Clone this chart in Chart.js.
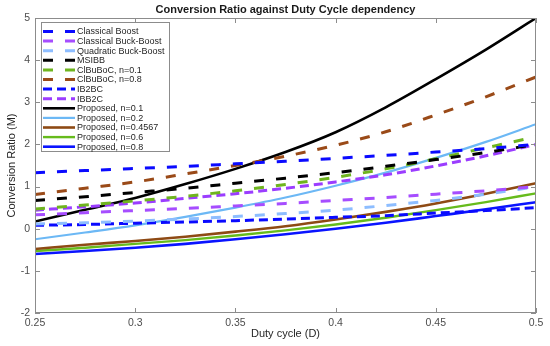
<!DOCTYPE html>
<html>
<head>
<meta charset="utf-8">
<script src="https://cdn.jsdelivr.net/npm/chart.js@4.4.0/dist/chart.umd.min.js"></script>
<style>
html, body { margin: 0; padding: 0; background: #fff; }
</style>
</head>
<body>
<canvas id="myChart" width="550" height="346"></canvas>
<script>
// duty cycle samples (x axis)
var duty = [0.25, 0.275, 0.3, 0.325, 0.35, 0.375, 0.4, 0.425, 0.45, 0.475, 0.5];

// conversion ratio, one array per curve
var classicalBoost   = [1.33, 1.38, 1.43, 1.48, 1.54, 1.60, 1.67, 1.74, 1.82, 1.90, 2.00];
var classicalBB      = [0.33, 0.38, 0.43, 0.48, 0.54, 0.60, 0.67, 0.74, 0.82, 0.90, 1.00];
var quadraticBB      = [0.11, 0.14, 0.18, 0.23, 0.29, 0.36, 0.44, 0.55, 0.67, 0.82, 1.00];
var msibb            = [0.67, 0.76, 0.86, 0.96, 1.08, 1.20, 1.33, 1.48, 1.64, 1.81, 2.00];
var cibubocN01       = [0.47, 0.56, 0.66, 0.77, 0.90, 1.05, 1.22, 1.42, 1.66, 1.92, 2.18];
var cibubocN08       = [0.81, 0.96, 1.11, 1.30, 1.50, 1.72, 1.98, 2.30, 2.70, 3.13, 3.60];
var ib2bc            = [0.08, 0.10, 0.13, 0.16, 0.19, 0.23, 0.27, 0.31, 0.37, 0.43, 0.50];
var ibb2c            = [0.44, 0.52, 0.61, 0.72, 0.83, 0.96, 1.11, 1.28, 1.49, 1.73, 2.00];
var propN01          = [0.17, 0.45, 0.73, 1.06, 1.42, 1.82, 2.29, 2.88, 3.55, 4.25, 5.00];
var propN02          = [-0.25, -0.09, 0.08, 0.28, 0.50, 0.74, 1.02, 1.33, 1.68, 2.06, 2.48];
var propN04567       = [-0.48, -0.38, -0.29, -0.19, -0.07, 0.06, 0.22, 0.40, 0.60, 0.83, 1.08];
var propN06          = [-0.53, -0.45, -0.36, -0.27, -0.16, -0.04, 0.10, 0.26, 0.44, 0.63, 0.84];
var propN08          = [-0.60, -0.53, -0.45, -0.36, -0.25, -0.13, 0.00, 0.14, 0.30, 0.46, 0.63];

var seriesNames = ["Classical Boost", "Classical Buck-Boost", "Quadratic Buck-Boost", "MSIBB",
    "ClBuBoC, n=0.1", "ClBuBoC, n=0.8", "IB2BC", "IBB2C",
    "Proposed, n=0.1", "Proposed, n=0.2", "Proposed, n=0.4567", "Proposed, n=0.6", "Proposed, n=0.8"];
var seriesValues = [classicalBoost, classicalBB, quadraticBB, msibb, cibubocN01, cibubocN08,
    ib2bc, ibb2c, propN01, propN02, propN04567, propN06, propN08];

var xTicks = [0.25, 0.3, 0.35, 0.4, 0.45, 0.5];
var yTicks = [-2, -1, 0, 1, 2, 3, 4, 5];

// styles
var colors = ["#0a0aff", "#a64dff", "#8dbdff", "#000000", "#6fb51f", "#9a4a18",
    "#0a0aff", "#9b3dff", "#000000", "#6cb8f5", "#8e4a14", "#66bb1c", "#0a14ff"];
var longDash = [10, 12];
var shortDash = [9, 5];
var dashes = [longDash, longDash, longDash, longDash, longDash, longDash, shortDash, shortDash, [], [], [], [], []];
var widths = [3, 3, 3, 3, 3, 3, 3, 3, 2.6, 2.2, 2.6, 2.4, 2.6];

const FONT = '"Liberation Sans", Arial, sans-serif';

var datasets = seriesNames.map(function(name, i){
    return {
        label: name,
        data: seriesValues[i].map(function(v, j){ return {x: duty[j], y: v}; }),
        borderColor: colors[i],
        backgroundColor: colors[i],
        borderDash: dashes[i],
        borderWidth: widths[i],
        pointRadius: 0,
        fill: false,
        cubicInterpolationMode: 'monotone'
    };
});

// axes box, inner ticks, labels and legend in MATLAB style
const decorPlugin = {
    id: 'decor',
    afterDatasetsDraw(chart){
        var ctx = chart.ctx, a = chart.chartArea;
        var xs = chart.scales.x, ys = chart.scales.y;
        ctx.save();
        ctx.strokeStyle = '#8c8c8c';
        ctx.lineWidth = 1;
        ctx.strokeRect(a.left + 0.5, a.top + 0.5, a.right - a.left - 1, a.bottom - a.top - 1);
        ctx.beginPath();
        xTicks.forEach(function(t){
            var px = Math.round(xs.getPixelForValue(t)) + 0.5;
            ctx.moveTo(px, a.bottom); ctx.lineTo(px, a.bottom - 5);
            ctx.moveTo(px, a.top); ctx.lineTo(px, a.top + 5);
        });
        yTicks.forEach(function(t){
            var py = Math.round(ys.getPixelForValue(t)) + 0.5;
            ctx.moveTo(a.left, py); ctx.lineTo(a.left + 5, py);
            ctx.moveTo(a.right, py); ctx.lineTo(a.right - 5, py);
        });
        ctx.stroke();

        // legend
        var lx = 41, ly = 22, lw = 128, lh = 129, step = 9.6;
        ctx.fillStyle = '#ffffff';
        ctx.fillRect(lx, ly, lw, lh);
        ctx.strokeStyle = '#8c8c8c';
        ctx.strokeRect(lx + 0.5, ly + 0.5, lw, lh);
        ctx.font = '9px ' + FONT;
        ctx.textBaseline = 'middle';
        chart.data.datasets.forEach(function(ds, i){
            var y = ly + 9.5 + i * step;
            ctx.beginPath();
            ctx.strokeStyle = ds.borderColor;
            ctx.lineWidth = ds.borderWidth;
            ctx.setLineDash(ds.borderDash.length ? ds.borderDash : []);
            ctx.moveTo(lx + 2, y); ctx.lineTo(lx + 34, y);
            ctx.stroke();
            ctx.setLineDash([]);
            ctx.fillStyle = '#262626';
            ctx.textAlign = 'left';
            ctx.fillText(ds.label, lx + 36, y + 0.5);
        });

        // title and axis labels
        var cx = (a.left + a.right) / 2;
        ctx.fillStyle = '#1a1a1a';
        ctx.textAlign = 'center';
        ctx.font = 'bold 11px ' + FONT;
        ctx.fillText('Conversion Ratio against Duty Cycle dependency', cx, 10);
        ctx.font = '11px ' + FONT;
        ctx.fillStyle = '#262626';
        ctx.fillText('Duty cycle (D)', cx, 334);
        ctx.translate(12, (a.top + a.bottom) / 2);
        ctx.rotate(-Math.PI / 2);
        ctx.fillText('Conversion Ratio (M)', 0, 0);
        ctx.restore();
    }
};

var ctx = document.getElementById("myChart").getContext('2d');
var myChart = new Chart(ctx, {
    type: 'line',
    data: { datasets: datasets },
    options: {
        responsive: false,
        animation: false,
        layout: { padding: { top: 18, right: 14, left: 0, bottom: 0 } },
        plugins: {
            legend: { display: false },
            title: { display: false },
            tooltip: { enabled: false }
        },
        scales: {
            x: {
                type: 'linear',
                min: 0.25, max: 0.5,
                afterFit: function(s){ s.height = 33; },
                afterBuildTicks: function(s){ s.ticks = xTicks.map(function(v){ return {value: v}; }); },
                grid: { display: false, drawTicks: false },
                border: { display: false },
                ticks: {
                    padding: 4,
                    color: '#4d4d4d',
                    font: { family: FONT, size: 10.5 },
                    maxRotation: 0,
                    callback: function(v){ return String(+v.toFixed(2)); }
                }
            },
            y: {
                min: -2, max: 5,
                afterFit: function(s){ s.width = 35; },
                afterBuildTicks: function(s){ s.ticks = yTicks.map(function(v){ return {value: v}; }); },
                grid: { display: false, drawTicks: false },
                border: { display: false },
                ticks: {
                    padding: 5,
                    color: '#4d4d4d',
                    font: { family: FONT, size: 10.5 }
                }
            }
        }
    },
    plugins: [decorPlugin]
});
</script>
</body>
</html>
